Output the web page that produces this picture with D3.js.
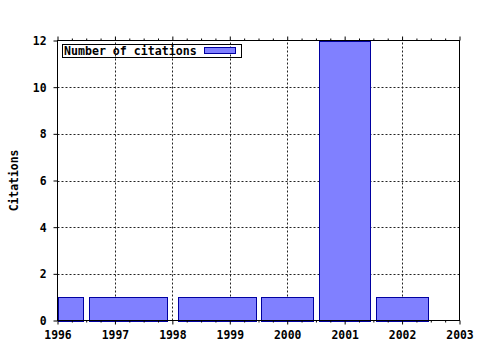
<!DOCTYPE html>
<html>
<head>
<meta charset="utf-8">
<script src="https://cdn.jsdelivr.net/npm/d3@7/dist/d3.min.js"></script>
<style>
  html, body { margin: 0; padding: 0; background: #fff; }
  svg { display: block; }
  text { font-family: "DejaVu Sans Mono", "Liberation Mono", monospace; font-weight: bold; fill: #000; }
</style>
</head>
<body>
<script>
// ---- data ----
const years = [1996, 1997, 1999, 2000, 2001, 2002];
const citations = [1, 1, 1, 1, 12, 1];
const xTickLabels = ["1996", "1997", "1998", "1999", "2000", "2001", "2002", "2003"];
const yTickLabels = ["0", "2", "4", "6", "8", "10", "12"];
const seriesName = "Number of citations";
const yAxisTitle = "Citations";

// ---- layout ----
const W = 480, H = 350;
const svg = d3.select("body").append("svg").attr("width", W).attr("height", H);

const x = d3.scaleLinear().domain([1996, 2003]).range([57.5, 459.5]);
const y = d3.scaleLinear().domain([0, 12]).range([320.5, 40.5]);
const fillC = "#8080ff", strokeC = "#0000a0";
const fontSize = "11.4px";

// grid (dotted)
const grid = svg.append("g").attr("stroke", "#222").attr("stroke-width", 1).attr("stroke-dasharray", "2,2");
xTickLabels.map(Number).filter(v => v > 1996 && v < 2003).forEach(v => {
  grid.append("line").attr("x1", Math.round(x(v)) + 0.5).attr("x2", Math.round(x(v)) + 0.5)
    .attr("y1", y(0)).attr("y2", y(12));
});
yTickLabels.map(Number).filter(v => v > 0 && v < 12).forEach(v => {
  grid.append("line").attr("y1", Math.round(y(v)) + 0.5).attr("y2", Math.round(y(v)) + 0.5)
    .attr("x1", x(1996)).attr("x2", x(2003));
});

// bars: gnuplot-style auto box width (0.9 relative to neighbour spacing)
const rel = 0.9;
const bars = years.map((yr, i) => {
  const dl = i > 0 ? yr - years[i - 1] : years[i + 1] - yr;
  const dr = i < years.length - 1 ? years[i + 1] - yr : yr - years[i - 1];
  return { x0: Math.max(1996, yr - rel * dl / 2), x1: Math.min(2003, yr + rel * dr / 2), v: citations[i] };
});
svg.append("g").selectAll("rect").data(bars).join("rect")
  .attr("x", d => Math.round(x(d.x0)))
  .attr("width", d => Math.round(x(d.x1)) - Math.round(x(d.x0)))
  .attr("y", d => Math.round(y(d.v)))
  .attr("height", d => Math.round(y(0)) - Math.round(y(d.v)))
  .attr("fill", fillC).attr("stroke", strokeC).attr("stroke-width", 1)
  .attr("transform", "translate(0.5,0.5)");

// border box
svg.append("rect").attr("x", x(1996)).attr("y", y(12))
  .attr("width", x(2003) - x(1996)).attr("height", y(0) - y(12))
  .attr("fill", "none").attr("stroke", "#000").attr("stroke-width", 1);

// x axis (bottom) and mirror (top), ticks outward
const xMajor = xTickLabels.map(Number);
const xMinor = d3.range(1996, 2003.001, 0.25).filter(v => !xMajor.includes(v));
const axisBottom = d3.axisBottom(x).tickValues(xMajor).tickFormat((d, i) => xTickLabels[i]).tickSizeOuter(0).tickSize(4).tickPadding(6);
const gB = svg.append("g").attr("transform", `translate(0,${y(0)})`).call(axisBottom);
gB.select(".domain").remove();
gB.selectAll("text").style("font-size", fontSize).style("font-family", null);
gB.selectAll(".tick line").attr("stroke", "#000");
const gBm = svg.append("g").attr("transform", `translate(0,${y(0)})`)
  .call(d3.axisBottom(x).tickValues(xMinor).tickFormat("").tickSize(2).tickSizeOuter(0));
gBm.select(".domain").remove();

const gT = svg.append("g").attr("transform", `translate(0,${y(12)})`)
  .call(d3.axisTop(x).tickValues(xMajor).tickFormat("").tickSize(4).tickSizeOuter(0));
gT.select(".domain").remove();
const gTm = svg.append("g").attr("transform", `translate(0,${y(12)})`)
  .call(d3.axisTop(x).tickValues(xMinor).tickFormat("").tickSize(2).tickSizeOuter(0));
gTm.select(".domain").remove();

// y axis (left)
const yMajor = yTickLabels.map(Number);
const gL = svg.append("g").attr("transform", `translate(${x(1996)},0)`)
  .call(d3.axisLeft(y).tickValues(yMajor).tickFormat((d, i) => yTickLabels[i]).tickSize(4).tickSizeOuter(0).tickPadding(7));
gL.select(".domain").remove();
gL.selectAll("text").style("font-size", fontSize).style("font-family", null).attr("dy", "0.36em");

// y axis title
svg.append("text").attr("transform", `translate(18,${(y(0) + y(12)) / 2}) rotate(-90)`)
  .attr("text-anchor", "middle").style("font-size", fontSize).text(yAxisTitle);

// legend
const lg = svg.append("g");
lg.append("rect").attr("x", 62.5).attr("y", 44.5).attr("width", 179).attr("height", 13)
  .attr("fill", "none").attr("stroke", "#000");
lg.append("text").attr("x", 64).attr("y", 54.5).style("font-size", "11.6px").text(seriesName);
lg.append("rect").attr("x", 204.5).attr("y", 47.5).attr("width", 31).attr("height", 6)
  .attr("fill", fillC).attr("stroke", strokeC);
</script>
</body>
</html>
